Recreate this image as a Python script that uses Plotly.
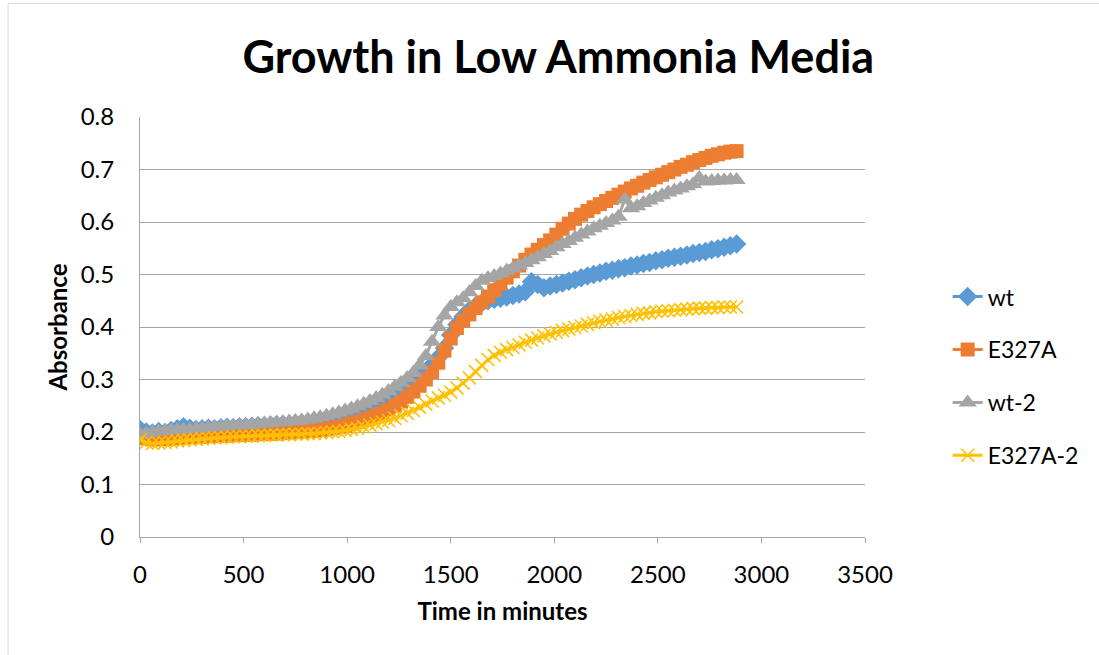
import plotly.graph_objects as go

times = list(range(0, 2881, 30))

wt = [
    0.205, 0.200, 0.198, 0.201, 0.199, 0.203, 0.206, 0.210, 0.207, 0.205,
    0.206, 0.207, 0.206, 0.208, 0.209, 0.208, 0.210, 0.210, 0.211, 0.212,
    0.212, 0.213, 0.214, 0.214, 0.215, 0.216, 0.217, 0.218, 0.219, 0.220,
    0.222, 0.224, 0.226, 0.228, 0.231, 0.234, 0.238, 0.242, 0.247, 0.252,
    0.258, 0.265, 0.273, 0.282, 0.292, 0.303, 0.315, 0.328, 0.342, 0.360,
    0.385, 0.405, 0.420, 0.432, 0.440, 0.446, 0.450, 0.453, 0.455, 0.457,
    0.460, 0.463, 0.467, 0.486, 0.481, 0.475, 0.478, 0.481, 0.484, 0.487,
    0.490, 0.494, 0.497, 0.500, 0.503, 0.506, 0.508, 0.511, 0.513, 0.516,
    0.518, 0.521, 0.523, 0.526, 0.528, 0.531, 0.533, 0.535, 0.537, 0.540,
    0.542, 0.544, 0.547, 0.549, 0.552, 0.555, 0.558,
]

e327a = [
    0.192, 0.188, 0.186, 0.186, 0.187, 0.188, 0.189, 0.190, 0.190, 0.191,
    0.191, 0.192, 0.192, 0.193, 0.193, 0.194, 0.194, 0.195, 0.195, 0.196,
    0.196, 0.197, 0.197, 0.198, 0.199, 0.200, 0.201, 0.202, 0.203, 0.204,
    0.206, 0.208, 0.210, 0.213, 0.216, 0.219, 0.223, 0.227, 0.232, 0.237,
    0.243, 0.250, 0.258, 0.267, 0.277, 0.288, 0.300, 0.314, 0.332, 0.355,
    0.378, 0.398, 0.412, 0.424, 0.436, 0.447, 0.458, 0.470, 0.482, 0.494,
    0.506, 0.517, 0.528, 0.538, 0.547, 0.556, 0.565, 0.576, 0.587, 0.597,
    0.606, 0.614, 0.621, 0.628, 0.634, 0.640, 0.646, 0.652, 0.658, 0.664,
    0.669, 0.675, 0.680, 0.685, 0.690, 0.695, 0.700, 0.705, 0.709, 0.714,
    0.718, 0.722, 0.726, 0.729, 0.732, 0.734, 0.735,
]

wt2 = [
    0.195, 0.197, 0.199, 0.201, 0.202, 0.203, 0.204, 0.205, 0.205, 0.206,
    0.207, 0.208, 0.209, 0.210, 0.211, 0.212, 0.213, 0.213, 0.214, 0.215,
    0.216, 0.217, 0.218, 0.219, 0.220, 0.221, 0.222, 0.224, 0.226, 0.228,
    0.231, 0.234, 0.237, 0.241, 0.245, 0.249, 0.254, 0.259, 0.265, 0.271,
    0.278, 0.286, 0.294, 0.303, 0.313, 0.327, 0.345, 0.372, 0.400, 0.422,
    0.438, 0.447, 0.455, 0.466, 0.478, 0.488, 0.493, 0.497, 0.502, 0.507,
    0.512, 0.517, 0.522, 0.527, 0.533, 0.539, 0.545, 0.552, 0.558, 0.564,
    0.570, 0.576, 0.582, 0.588, 0.593, 0.598, 0.603, 0.610, 0.643, 0.626,
    0.630, 0.636, 0.641, 0.646, 0.651, 0.656, 0.660, 0.664, 0.668, 0.672,
    0.684, 0.677, 0.678, 0.679, 0.679, 0.680, 0.680,
]

e327a2 = [
    0.185, 0.180, 0.178, 0.179, 0.180, 0.181, 0.183, 0.184, 0.185, 0.186,
    0.187, 0.188, 0.189, 0.189, 0.190, 0.191, 0.191, 0.192, 0.192, 0.193,
    0.193, 0.194, 0.194, 0.195, 0.195, 0.196, 0.196, 0.197, 0.197, 0.198,
    0.199, 0.200, 0.201, 0.203, 0.205, 0.207, 0.210, 0.213, 0.216, 0.219,
    0.222, 0.226, 0.231, 0.236, 0.241, 0.247, 0.253, 0.259, 0.265, 0.270,
    0.276, 0.284, 0.293, 0.303, 0.315, 0.327, 0.338, 0.346, 0.352, 0.357,
    0.361, 0.366, 0.371, 0.375, 0.379, 0.383, 0.387, 0.390, 0.393, 0.396,
    0.399, 0.402, 0.405, 0.408, 0.411, 0.413, 0.415, 0.418, 0.420, 0.422,
    0.424, 0.426, 0.427, 0.429, 0.430, 0.431, 0.432, 0.433, 0.434, 0.435,
    0.436, 0.436, 0.437, 0.437, 0.438, 0.438, 0.438,
]

series_names = ["wt", "E327A", "wt-2", "E327A-2"]
colors = ["#5B9BD5", "#ED7D31", "#A5A5A5", "#FFC000"]
symbols = ["diamond", "square", "triangle-up", "x-thin"]
sizes = [15, 14, 16, 13]
values = [wt, e327a, wt2, e327a2]

FONT = "Lato"

fig = go.Figure()
for name, col, sym, sz, ys in zip(series_names, colors, symbols, sizes, values):
    if sym == "x-thin":
        marker = dict(symbol=sym, size=sz, color=col, line=dict(width=1.6, color=col))
    else:
        marker = dict(symbol=sym, size=sz, color=col, line=dict(width=0))
    fig.add_trace(go.Scatter(
        x=times, y=ys, name=name, mode="lines+markers",
        line=dict(color=col, width=3),
        marker=marker,
        legendgroup=name,
    ))

fig.update_layout(
    width=1099, height=655,
    margin=dict(l=140, r=234, t=117, b=118),
    paper_bgcolor="white", plot_bgcolor="white",
    font=dict(family=FONT, color="black", size=22),
    title=dict(text="<b>Growth in Low Ammonia Media</b>", x=0.508, xanchor="center",
               y=0.913, yanchor="middle", font=dict(family=FONT, size=45, color="black")),
    showlegend=True,
    legend=dict(x=1.114, xanchor="left", y=0.383, yanchor="middle",
                font=dict(family=FONT, size=23), tracegroupgap=20,
                bgcolor="rgba(0,0,0,0)"),
    shapes=[dict(type="rect", xref="paper", yref="paper",
                 x0=-0.182, x1=1.6, y0=-0.4, y1=1.27,
                 line=dict(color="#D9D9D9", width=1), fillcolor="rgba(0,0,0,0)",
                 layer="below")],
)

fig.update_xaxes(
    range=[0, 3500], dtick=500, tick0=0,
    showgrid=False, zeroline=False,
    showline=True, linecolor="#A6A6A6", linewidth=1,
    ticks="outside", ticklen=5, tickcolor="#A6A6A6",
    ticklabelstandoff=11,
    tickfont=dict(size=24, family=FONT),
    title=dict(text="<b>Time in minutes</b>", font=dict(size=24, family=FONT), standoff=16),
)
fig.update_yaxes(
    range=[0, 0.8], dtick=0.1, tick0=0,
    showgrid=True, gridcolor="#A6A6A6", gridwidth=1,
    zeroline=False,
    showline=True, linecolor="#A6A6A6", linewidth=1,
    ticks="", ticklabelstandoff=20,
    tickfont=dict(size=24, family=FONT),
    title=dict(text="<b>Absorbance</b>", font=dict(size=24, family=FONT), standoff=6),
)

fig.write_html("out.html")
